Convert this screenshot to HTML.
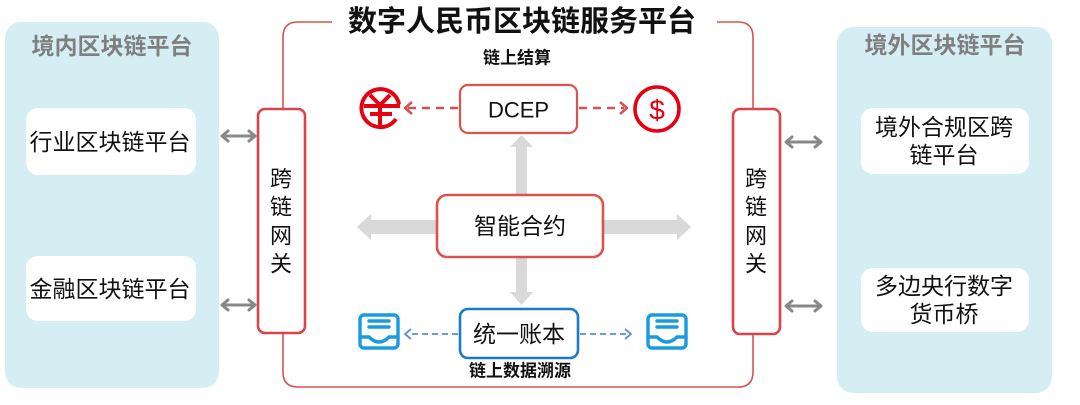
<!DOCTYPE html>
<html><head><meta charset="utf-8"><style>
html,body{margin:0;padding:0;background:#fff;}
svg{display:block;}
text{font-family:"Liberation Sans","Noto Sans CJK SC",sans-serif;}
</style></head><body>
<svg width="1080" height="405" viewBox="0 0 1080 405" xmlns="http://www.w3.org/2000/svg">
<!-- side panels -->
<rect x="5" y="22" width="214" height="366" rx="16" fill="#d5eef4"/>
<rect x="837" y="27" width="215" height="366" rx="16" fill="#d5eef4"/>
<text x="112" y="46" text-anchor="middle" dominant-baseline="central" font-size="23" font-weight="bold" fill="#7f7f7f">境内区块链平台</text>
<text x="945" y="45" text-anchor="middle" dominant-baseline="central" font-size="23" font-weight="bold" fill="#7f7f7f">境外区块链平台</text>
<rect x="26" y="108" width="170" height="67" rx="12" fill="#fff"/>
<rect x="26" y="256" width="170" height="65" rx="12" fill="#fff"/>
<rect x="861" y="108" width="168" height="66" rx="12" fill="#fff"/>
<rect x="861" y="268" width="168" height="64" rx="12" fill="#fff"/>
<text x="110" y="142" text-anchor="middle" dominant-baseline="central" font-size="23" fill="#111">行业区块链平台</text>
<text x="110" y="289" text-anchor="middle" dominant-baseline="central" font-size="23" fill="#111">金融区块链平台</text>
<text x="944" y="127" text-anchor="middle" dominant-baseline="central" font-size="23" fill="#111">境外合规区跨</text>
<text x="944" y="155" text-anchor="middle" dominant-baseline="central" font-size="23" fill="#111">链平台</text>
<text x="944" y="286" text-anchor="middle" dominant-baseline="central" font-size="23" fill="#111">多边央行数字</text>
<text x="944" y="314" text-anchor="middle" dominant-baseline="central" font-size="23" fill="#111">货币桥</text>

<!-- main frame -->
<path d="M332,22 H298 Q283,22 283,37 V372 Q283,387 298,387 H738 Q753,387 753,372 V37 Q753,22 738,22 H717" fill="none" stroke="#d9534f" stroke-width="1.6"/>
<text x="522" y="22" text-anchor="middle" dominant-baseline="central" font-size="29" font-weight="bold" fill="#111">数字人民币区块链服务平台</text>

<!-- gateways -->
<rect x="258" y="109" width="47" height="224" rx="7" fill="#fff" stroke="#d9434a" stroke-width="2.6"/>
<rect x="733" y="109" width="47" height="225" rx="7" fill="#fff" stroke="#d9434a" stroke-width="2.6"/>
<g font-size="22" fill="#111" text-anchor="middle" dominant-baseline="central">
<text x="281" y="179">跨</text><text x="281" y="207">链</text><text x="281" y="236">网</text><text x="281" y="264">关</text>
<text x="756" y="179">跨</text><text x="756" y="207">链</text><text x="756" y="236">网</text><text x="756" y="264">关</text>
</g>

<!-- gray double arrows -->
<g stroke="#888" stroke-width="3" fill="none" stroke-linecap="round" stroke-linejoin="round">
<path d="M223,136 H254 M228,131 L222,136 L228,141 M249,131 L255,136 L249,141"/>
<path d="M223,305 H254 M228,300 L222,305 L228,310 M249,300 L255,305 L249,310"/>
<path d="M787,142 H820 M792,137 L786,142 L792,147 M815,137 L821,142 L815,147"/>
<path d="M787,306 H820 M792,301 L786,306 L792,311 M815,301 L821,306 L815,311"/>
</g>

<!-- big gray arrows -->
<g fill="#d9d9d9">
<rect x="369" y="220" width="70" height="14"/>
<polygon points="357,227 371,214 371,240"/>
<rect x="601" y="220" width="77" height="14"/>
<polygon points="677,214 691,227 677,240"/>
<rect x="516" y="146" width="11" height="50"/>
<polygon points="510,147 521.5,135 533,147"/>
<rect x="516" y="256" width="11" height="38"/>
<polygon points="510,292 533,292 521.5,305"/>
</g>

<!-- top labels -->
<text x="517" y="58" text-anchor="middle" dominant-baseline="central" font-size="17" font-weight="bold" fill="#111">链上结算</text>
<text x="520" y="371" text-anchor="middle" dominant-baseline="central" font-size="17" font-weight="bold" fill="#111">链上数据溯源</text>

<!-- DCEP -->
<rect x="460" y="85" width="117" height="48" rx="8" fill="#fff" stroke="#d9534f" stroke-width="2.2"/>
<text x="518.5" y="110" text-anchor="middle" dominant-baseline="central" font-size="22" fill="#111">DCEP</text>
<g stroke="#d65050" stroke-width="2.5" fill="none">
<path d="M458,108 H408" stroke-dasharray="8 6"/>
<path d="M412,102 L405,108 L412,114" stroke-linejoin="round"/>
<path d="M579,108 H624" stroke-dasharray="8 6"/>
<path d="M620,102 L627,108 L620,114" stroke-linejoin="round"/>
</g>
<!-- yuan icon -->
<g stroke="#e60012" stroke-width="4" fill="none">
<path d="M399,104 A19,19 0 1 0 396,119"/>
<path d="M370,95 L380,105 L390,95"/>
<path d="M364,106 H400"/>
<path d="M370,114 H392"/>
<path d="M380,106 V126"/>
</g>
<!-- dollar icon -->
<circle cx="657" cy="109" r="22" fill="none" stroke="#e60012" stroke-width="3.6"/>
<text x="657" y="110" text-anchor="middle" dominant-baseline="central" font-size="28" fill="#e60012">$</text>

<!-- smart contract -->
<rect x="437" y="195" width="166" height="62" rx="10" fill="#fff" stroke="#d9534f" stroke-width="2.6"/>
<text x="520" y="226" text-anchor="middle" dominant-baseline="central" font-size="23" fill="#111">智能合约</text>

<!-- ledger -->
<rect x="460" y="309" width="118" height="49" rx="8" fill="#fff" stroke="#1a7bc8" stroke-width="2.6"/>
<text x="519" y="334" text-anchor="middle" dominant-baseline="central" font-size="23" fill="#111">统一账本</text>
<g stroke="#5a8fd6" stroke-width="1.8" fill="none">
<path d="M458,334 H408" stroke-dasharray="6 4"/>
<path d="M411,329 L405,334 L411,339" stroke-linejoin="round"/>
<path d="M580,334 H628" stroke-dasharray="6 4"/>
<path d="M625,329 L631,334 L625,339" stroke-linejoin="round"/>
</g>
<!-- tray icons -->
<g stroke="#1a9be0" stroke-width="3.4" fill="none" stroke-linecap="round">
<rect x="360" y="315" width="38" height="33" rx="4"/>
<path d="M369,321 H389 M369,327 H389"/>
<path d="M360,337 H369 Q379,347 389,337 H398"/>
<rect x="648" y="315" width="38" height="33" rx="4"/>
<path d="M657,321 H677 M657,327 H677"/>
<path d="M648,337 H657 Q667,347 677,337 H686"/>
</g>
</svg>
</body></html>
